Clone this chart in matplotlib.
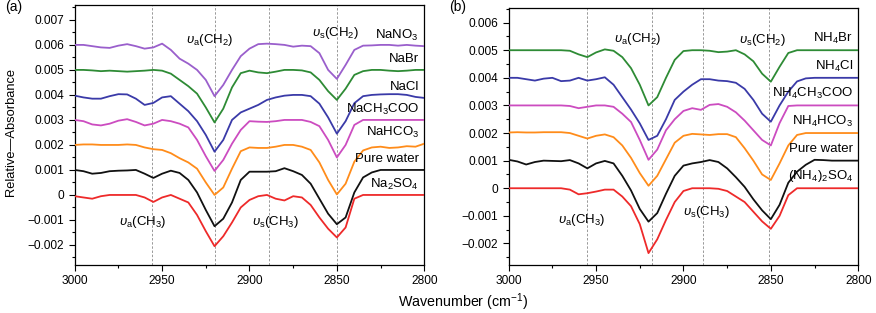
import numpy as np
import matplotlib
matplotlib.use('Agg')
import matplotlib.pyplot as plt
from matplotlib.ticker import MultipleLocator, FuncFormatter

plt.rcParams['font.family'] = ['Liberation Sans', 'DejaVu Sans']
plt.rcParams['mathtext.fontset'] = 'custom'
plt.rcParams['mathtext.rm'] = 'Liberation Sans'
plt.rcParams['mathtext.it'] = 'Liberation Sans:italic'

# wavenumber grid (cm-1), absorbance values in units of 1e-3
wavenumber = [3000, 2995, 2990, 2985, 2980, 2975, 2970, 2965, 2960, 2955,
              2950, 2945, 2940, 2935, 2930, 2925, 2920, 2915, 2910, 2905,
              2900, 2895, 2890, 2885, 2880, 2875, 2870, 2865, 2860, 2855,
              2850, 2845, 2840, 2835, 2830, 2825, 2820, 2815, 2810, 2805, 2800]

# (a) sodium salts
na_no3 = [6.0, 6.0, 5.95, 5.9, 5.88, 5.97, 6.03, 5.95, 5.85, 5.9,
          6.05, 5.8, 5.45, 5.25, 5.0, 4.6, 3.95, 4.4, 5.0, 5.55,
          5.85, 6.03, 6.05, 6.03, 6.0, 5.93, 5.97, 5.95, 5.67, 5.0,
          4.64, 5.2, 5.8, 5.97, 5.98, 6.0, 6.0, 5.97, 6.0, 5.97, 5.95]
na_br = [5.0, 5.0, 4.98, 4.95, 4.97, 4.95, 4.93, 4.95, 4.97, 5.0,
         4.97, 4.85, 4.6, 4.35, 4.05, 3.5, 2.9, 3.45, 4.3, 4.87,
         4.97, 4.9, 4.87, 4.93, 5.0, 5.0, 4.98, 4.9, 4.6, 4.15,
         3.8, 4.25, 4.8, 4.95, 5.0, 5.0, 4.97, 4.95, 4.97, 5.0, 5.0]
na_cl = [3.97, 3.9, 3.85, 3.85, 3.95, 4.03, 4.02, 3.85, 3.6, 3.68,
         3.9, 3.95, 3.65, 3.35, 2.95, 2.4, 1.73, 2.2, 3.0, 3.3,
         3.45, 3.6, 3.8, 3.9, 3.97, 4.0, 4.0, 3.95, 3.65, 3.1,
         2.45, 2.95, 3.67, 3.95, 4.0, 4.02, 4.03, 4.03, 4.0, 3.92, 3.88]
na_ch3coo = [3.0, 2.95, 2.82, 2.78, 2.85, 2.97, 3.03, 2.92, 2.78, 2.85,
             3.0, 2.95, 2.85, 2.7, 2.2, 1.55, 0.96, 1.4, 2.05, 2.6,
             2.95, 2.93, 2.92, 2.95, 3.0, 3.0, 3.0, 2.92, 2.75, 2.2,
             1.5, 2.0, 2.8, 3.0, 3.0, 3.0, 3.0, 3.0, 3.0, 3.0, 3.0]
water_a = [2.0, 2.02, 2.02, 2.0, 2.0, 2.0, 2.02, 2.0, 1.9, 1.83,
           1.8, 1.67, 1.47, 1.3, 1.05, 0.5, 0.0, 0.3, 1.05, 1.75,
           1.9, 1.88, 1.88, 1.93, 2.0, 2.0, 1.93, 1.8, 1.3, 0.6,
           0.02, 0.45, 1.33, 1.78, 1.9, 1.93, 1.88, 1.9, 1.95, 1.93, 2.05]
black_a = [1.0, 0.95, 0.85, 0.88, 0.95, 0.97, 0.98, 1.0, 0.85, 0.68,
           0.85, 0.97, 0.88, 0.6, 0.1, -0.6, -1.25, -0.95, -0.3, 0.6,
           0.93, 0.93, 0.93, 0.95, 1.07, 0.95, 0.8, 0.45, -0.15, -0.75,
           -1.17, -0.9, 0.1, 0.7, 0.9, 1.0, 1.0, 1.0, 1.0, 1.0, 1.0]
red_a = [-0.05, -0.1, -0.15, -0.05, 0.0, 0.0, 0.0, 0.0, -0.1, -0.28,
         -0.1, 0.0, -0.15, -0.3, -0.8, -1.45, -2.05, -1.65, -1.1, -0.5,
         -0.2, -0.05, 0.0, -0.15, -0.22, -0.05, -0.1, -0.4, -0.9, -1.35,
         -1.7, -1.3, -0.15, 0.0, 0.0, 0.0, 0.0, 0.0, 0.0, 0.0, 0.0]

# (b) ammonium salts
nh4_br = [5.0, 5.0, 5.0, 5.0, 5.0, 5.0, 5.0, 4.98, 4.85, 4.75,
          4.92, 5.03, 4.98, 4.75, 4.35, 3.75, 3.0, 3.3, 4.0, 4.65,
          4.97, 5.0, 5.0, 4.98, 4.93, 4.95, 5.0, 4.85, 4.6, 4.15,
          3.86, 4.4, 4.9, 5.0, 5.0, 5.0, 5.0, 5.0, 5.0, 5.0, 5.0]
nh4_cl = [4.0, 4.0, 3.95, 3.9, 3.97, 4.0, 3.88, 3.9, 4.0, 3.9,
          3.95, 4.02, 3.75, 3.3, 2.85, 2.35, 1.75, 1.9, 2.5, 3.2,
          3.5, 3.75, 3.95, 3.95, 3.9, 3.88, 3.82, 3.6, 3.2, 2.7,
          2.41, 3.0, 3.5, 3.87, 3.98, 4.0, 4.0, 4.0, 4.0, 4.0, 4.0]
nh4_ch3coo = [3.0, 3.0, 3.0, 3.0, 3.0, 3.0, 3.0, 2.98, 2.9, 2.95,
              3.0, 3.0, 2.95, 2.7, 2.4, 1.75, 1.03, 1.4, 2.1, 2.5,
              2.8, 2.9, 2.84, 3.02, 3.05, 2.95, 2.75, 2.45, 2.1, 1.75,
              1.55, 2.36, 2.98, 3.0, 3.0, 3.0, 3.0, 3.0, 3.0, 3.0, 3.0]
water_b = [2.02, 2.03, 2.02, 2.02, 2.03, 2.03, 2.03, 2.0, 1.9, 1.8,
           1.9, 1.95, 1.85, 1.55, 1.1, 0.55, 0.09, 0.45, 1.05, 1.65,
           1.9, 1.97, 1.95, 1.93, 1.96, 1.96, 1.85, 1.45, 1.0, 0.5,
           0.3, 0.9, 1.55, 1.93, 2.0, 2.0, 2.0, 2.0, 2.0, 2.0, 2.0]
black_b = [1.03, 0.97, 0.86, 0.95, 1.0, 0.99, 0.98, 1.02, 0.9, 0.72,
           0.9, 0.99, 0.9, 0.45, -0.08, -0.75, -1.21, -0.9, -0.2, 0.45,
           0.82, 0.9, 0.95, 1.02, 0.95, 0.72, 0.4, 0.05, -0.4, -0.8,
           -1.12, -0.6, 0.2, 0.6, 0.85, 1.03, 1.02, 1.0, 1.0, 1.0, 1.0]
red_b = [0.0, 0.0, 0.0, 0.0, 0.0, 0.0, 0.0, -0.05, -0.22, -0.18,
         -0.12, -0.05, -0.05, -0.3, -0.65, -1.3, -2.35, -1.85, -1.15, -0.5,
         -0.1, 0.0, 0.0, 0.0, -0.02, -0.1, -0.3, -0.5, -0.85, -1.2,
         -1.47, -1.0, -0.25, 0.0, 0.0, 0.0, 0.0, 0.0, 0.0, 0.0, 0.0]

labels_a = ['NaNO$_3$', 'NaBr', 'NaCl', 'NaCH$_3$COO', 'NaHCO$_3$', 'Pure water', 'Na$_2$SO$_4$']
labels_b = ['NH$_4$Br', 'NH$_4$Cl', 'NH$_4$CH$_3$COO', 'NH$_4$HCO$_3$', 'Pure water', '(NH$_4$)$_2$SO$_4$']
colors_a = ['#9a5fcc', '#2e8b35', '#3a3aa8', '#cc4cc0', '#ff8c1a', '#111111', '#ee2a2a']
colors_b = ['#2e8b35', '#3a3aa8', '#cc4cc0', '#ff8c1a', '#111111', '#ee2a2a']

# band positions (dashed guides) and their names
bands_a = [2956, 2920, 2889, 2850]
bands_b = [2955, 2918, 2889, 2851]
band_names = [r'$\mathit{υ}_{\mathrm{a}}$(CH$_3$)', r'$\mathit{υ}_{\mathrm{a}}$(CH$_2$)',
              r'$\mathit{υ}_{\mathrm{s}}$(CH$_3$)', r'$\mathit{υ}_{\mathrm{s}}$(CH$_2$)']


def milli_fmt(v, pos):
    if abs(v) < 1e-9:
        return '0'
    return f'{v / 1000:.3f}'.replace('-', '\u2212')


def style_axes(ax, ylim):
    ax.set_xlim(3000, 2800)
    ax.set_ylim(*ylim)
    ax.xaxis.set_major_locator(MultipleLocator(50))
    ax.xaxis.set_minor_locator(MultipleLocator(25))
    ax.yaxis.set_major_locator(MultipleLocator(1))
    ax.yaxis.set_minor_locator(MultipleLocator(0.5))
    ax.yaxis.set_major_formatter(FuncFormatter(milli_fmt))
    ax.tick_params(which='both', direction='out', labelsize=8.6, width=0.8)
    ax.tick_params(which='major', length=4)
    ax.tick_params(which='minor', length=2.5)
    for s in ax.spines.values():
        s.set_linewidth(0.9)


fig = plt.figure(figsize=(8.76, 3.13), dpi=100)
ax_a = fig.add_axes([0.0853, 0.1534, 0.399, 0.831])
ax_b = fig.add_axes([0.5807, 0.1534, 0.399, 0.8211])

series_a = [na_no3, na_br, na_cl, na_ch3coo, water_a, black_a, red_a]
series_b = [nh4_br, nh4_cl, nh4_ch3coo, water_b, black_b, red_b]

for ax, series, labels, colors, bands in [
        (ax_a, series_a, labels_a, colors_a, bands_a),
        (ax_b, series_b, labels_b, colors_b, bands_b)]:
    for b in bands:
        ax.axvline(b, color='#999999', lw=0.7, ls=(0, (2.5, 1.8)), zorder=1)
    for y, lab, c in zip(series, labels, colors):
        ax.plot(wavenumber, y, color=c, lw=1.3, zorder=3)
        ax.text(2803, y[-1] + 0.43, lab, ha='right', va='center', fontsize=9.5, zorder=4)

style_axes(ax_a, (-2.8, 7.6))
style_axes(ax_b, (-2.78, 6.53))

# band annotations
ax_a.text(2923, 6.2, band_names[1], ha='center', va='center', fontsize=9.5)
ax_a.text(2851, 6.48, band_names[3], ha='center', va='center', fontsize=9.5)
ax_a.text(2961, -1.08, band_names[0], ha='center', va='center', fontsize=9.5)
ax_a.text(2885, -1.08, band_names[2], ha='center', va='center', fontsize=9.5)

ax_b.text(2926, 5.41, band_names[1], ha='center', va='center', fontsize=9.5)
ax_b.text(2855, 5.37, band_names[3], ha='center', va='center', fontsize=9.5)
ax_b.text(2958, -1.15, band_names[0], ha='center', va='center', fontsize=9.5)
ax_b.text(2887, -0.85, band_names[2], ha='center', va='center', fontsize=9.5)

fig.text(0.006, 0.977, '(a)', fontsize=10, va='center')
fig.text(0.5125, 0.977, '(b)', fontsize=10, va='center')
fig.text(0.013, 0.578, 'Relative\u2014Absorbance', rotation=90, fontsize=9.3, ha='center', va='center')
fig.text(0.5285, 0.036, 'Wavenumber (cm$^{-1}$)', fontsize=10.3, ha='center', va='center')

plt.savefig('out.png', dpi=100)
plt.close()
